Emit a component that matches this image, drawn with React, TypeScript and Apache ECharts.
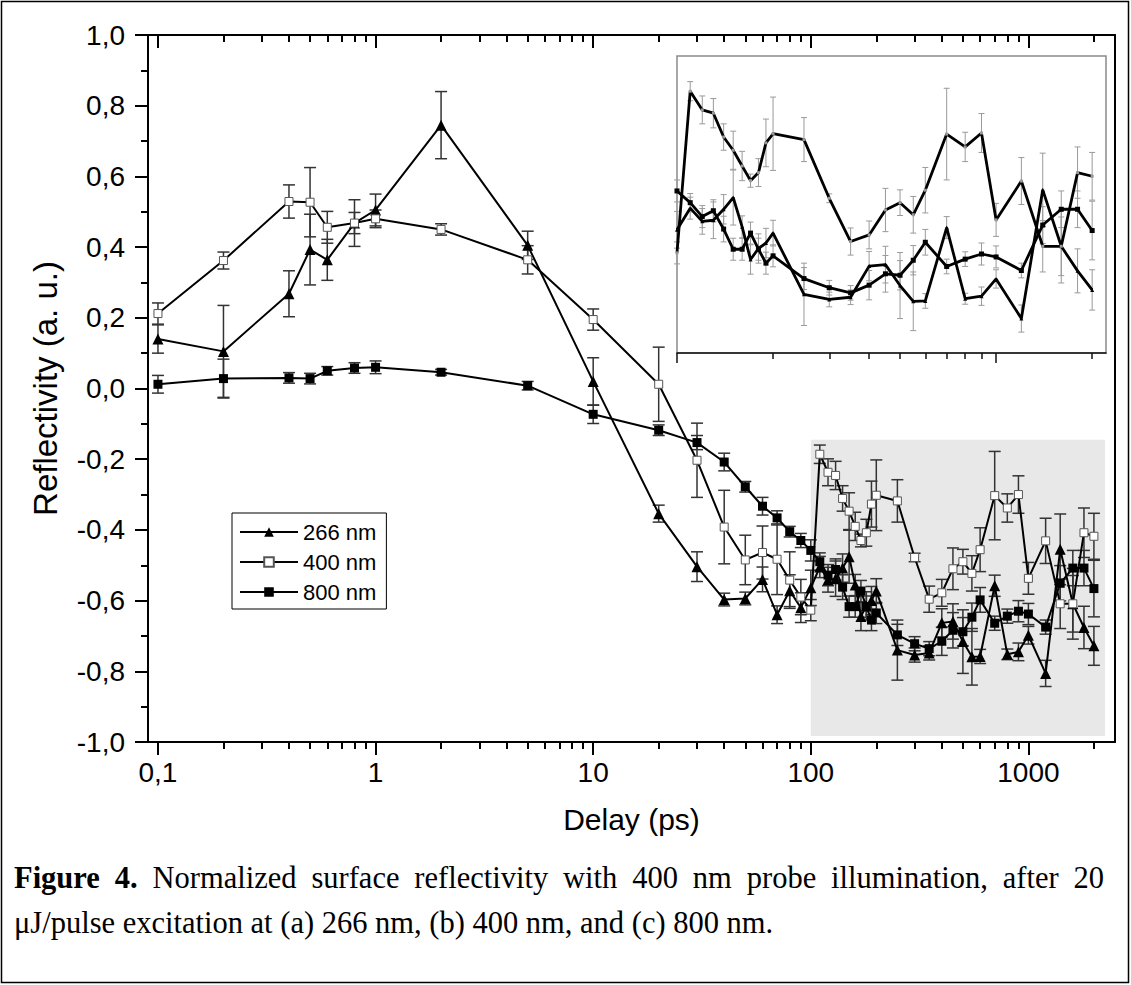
import React, { useEffect, useRef } from 'react';
import * as echarts from 'echarts';

// ---- data ----
const delays = [0.1, 0.2, 0.4, 0.5, 0.6, 0.8, 1, 2, 5, 10, 20, 30, 40, 50, 60, 70, 80, 90, 100, 110, 120, 130, 140, 150, 160, 170, 180, 190, 200, 250, 300, 350, 400, 450, 500, 550, 600, 700, 800, 900, 1000, 1200, 1400, 1600, 1800, 2000];

const r266 = [0.14, 0.105, 0.268, 0.393, 0.364, 0.468, 0.505, 0.745, 0.405, 0.02, -0.354, -0.504, -0.597, -0.594, -0.54, -0.64, -0.572, -0.62, -0.564, -0.505, -0.541, -0.538, -0.508, -0.476, -0.556, -0.645, -0.615, -0.6, -0.573, -0.74, -0.754, -0.748, -0.663, -0.659, -0.716, -0.759, -0.758, -0.558, -0.752, -0.745, -0.698, -0.806, -0.455, -0.609, -0.676, -0.728];
const e266 = [0.04, 0.13, 0.065, 0.1, 0.058, 0.066, 0.045, 0.095, 0.04, 0.067, 0.024, 0.042, 0.018, 0.018, 0.035, 0.025, 0.045, 0.042, 0.05, 0.03, 0.035, 0.05, 0.04, 0.075, 0.03, 0.04, 0.04, 0.04, 0.035, 0.085, 0.02, 0.02, 0.04, 0.05, 0.09, 0.08, 0.02, 0.03, 0.015, 0.025, 0.025, 0.037, 0.1, 0.08, 0.06, 0.055];

const r400 = [0.212, 0.362, 0.529, 0.527, 0.456, 0.468, 0.48, 0.45, 0.364, 0.195, 0.012, -0.203, -0.392, -0.485, -0.464, -0.483, -0.542, -0.59, -0.627, -0.186, -0.237, -0.246, -0.311, -0.347, -0.39, -0.43, -0.408, -0.327, -0.302, -0.318, -0.478, -0.596, -0.578, -0.51, -0.49, -0.523, -0.456, -0.303, -0.338, -0.3, -0.537, -0.431, -0.609, -0.609, -0.408, -0.418];
const e400 = [0.03, 0.024, 0.047, 0.098, 0.045, 0.03, 0.025, 0.016, 0.04, 0.03, 0.105, 0.105, 0.104, 0.07, 0.075, 0.1, 0.08, 0.05, 0.03, 0.026, 0.038, 0.04, 0.036, 0.052, 0.04, 0.018, 0.038, 0.065, 0.1, 0.06, 0.012, 0.037, 0.038, 0.059, 0.035, 0.05, 0.062, 0.125, 0.04, 0.053, 0.045, 0.064, 0.07, 0.1, 0.07, 0.065];

const r800 = [0.012, 0.028, 0.03, 0.028, 0.05, 0.058, 0.06, 0.046, 0.008, -0.073, -0.118, -0.153, -0.208, -0.278, -0.333, -0.366, -0.405, -0.43, -0.458, -0.49, -0.528, -0.512, -0.562, -0.617, -0.617, -0.573, -0.617, -0.655, -0.635, -0.697, -0.722, -0.736, -0.715, -0.684, -0.688, -0.647, -0.598, -0.664, -0.644, -0.63, -0.638, -0.675, -0.551, -0.508, -0.508, -0.566];
const e800 = [0.025, 0.055, 0.015, 0.015, 0.012, 0.015, 0.018, 0.008, 0.012, 0.026, 0.015, 0.02, 0.025, 0.015, 0.025, 0.02, 0.015, 0.02, 0.03, 0.025, 0.03, 0.03, 0.035, 0.03, 0.03, 0.03, 0.03, 0.03, 0.03, 0.03, 0.02, 0.02, 0.04, 0.05, 0.04, 0.04, 0.035, 0.02, 0.02, 0.03, 0.03, 0.02, 0.05, 0.05, 0.05, 0.08];

const seriesNames = ['266 nm', '400 nm', '800 nm'];
const xMajorTicks = [0.1, 1, 10, 100, 1000];
const xMinorTicks = [0.2, 0.3, 0.4, 0.5, 0.6, 0.7, 0.8, 0.9, 2, 3, 4, 5, 6, 7, 8, 9, 20, 30, 40, 50, 60, 70, 80, 90, 200, 300, 400, 500, 600, 700, 800, 900, 2000];
const insetMajorTicks = [100, 1000];
const insetMinorTicks = [200, 300, 400, 500, 600, 700, 800, 900, 2000];
const insetStart = 100;
const shadeDelay = [100, 2250];
const shadeRefl = [-0.983, -0.145];

const captionBold = 'Figure 4.';
const captionLine1 = 'Normalized surface reflectivity with 400 nm probe illumination, after 20';
const captionLine2 = 'μJ/pulse excitation at (a) 266 nm, (b) 400 nm, and (c) 800 nm.';

const SANS = '"Liberation Sans", Arial, sans-serif';
const SERIF = '"Liberation Serif", "Times New Roman", serif';
const CAP_SIZE = 30.5;

function fmtX(v: number) {
  return String(parseFloat(Number(v).toPrecision(6))).replace('.', ',');
}
function fmtY(v: number) {
  return Number(v).toFixed(1).replace('.', ',');
}

function errorBars(vals: number[], errs: number[], xi: number, yi: number, minDelay: number, color: string, lw: number, cap: number, z: number) {
  const data = delays
    .map((d, i) => [d, vals[i] - errs[i], vals[i] + errs[i]])
    .filter((p) => p[0] >= minDelay);
  return {
    type: 'custom',
    xAxisIndex: xi,
    yAxisIndex: yi,
    silent: true,
    z,
    data,
    encode: { x: 0, y: [1, 2] },
    renderItem: (params: any, api: any) => {
      const x = api.value(0);
      const lo = api.value(1);
      const hi = api.value(2);
      const a = api.coord([x, hi]);
      const b = api.coord([x, lo]);
      const h = cap / 2;
      const st = { stroke: color, lineWidth: lw };
      return {
        type: 'group',
        children: [
          { type: 'line', shape: { x1: a[0], y1: a[1], x2: b[0], y2: b[1] }, style: st },
          { type: 'line', shape: { x1: a[0] - h, y1: a[1], x2: a[0] + h, y2: a[1] }, style: st },
          { type: 'line', shape: { x1: b[0] - h, y1: b[1], x2: b[0] + h, y2: b[1] }, style: st },
        ],
      };
    },
  };
}

function lineSeries(name: string | undefined, vals: number[], xi: number, yi: number, minDelay: number, symbol: string, size: number, itemStyle: any, lw: number, z: number) {
  return {
    type: 'line',
    name,
    xAxisIndex: xi,
    yAxisIndex: yi,
    data: delays.map((d, i) => [d, vals[i]]).filter((p) => p[0] >= minDelay),
    symbol,
    symbolSize: size,
    showSymbol: true,
    showAllSymbol: true,
    lineStyle: { color: '#000', width: lw },
    itemStyle,
    emphasis: { disabled: true },
    silent: true,
    z,
  };
}

// justified first caption line (word positions from measured text widths)
function justifiedCaption(y: number, x0: number, x1: number) {
  const boldWords = captionBold.split(' ');
  const words = [...boldWords.map((t) => ({ t, b: true })), ...captionLine1.split(' ').map((t) => ({ t, b: false }))];
  const ctx = document.createElement('canvas').getContext('2d') as CanvasRenderingContext2D;
  const widths = words.map((w) => {
    ctx.font = `${w.b ? 'bold ' : ''}${CAP_SIZE}px "Liberation Serif"`;
    return ctx.measureText(w.t).width;
  });
  const total = widths.reduce((a, b) => a + b, 0);
  const gap = (x1 - x0 - total) / (words.length - 1);
  let x = x0;
  return words.map((w, i) => {
    const el = {
      type: 'text',
      x,
      y,
      silent: true,
      style: {
        text: w.t,
        fontSize: CAP_SIZE,
        fontFamily: SERIF,
        fontWeight: w.b ? 'bold' : 'normal',
        fill: '#000',
        align: 'left',
        verticalAlign: 'middle',
      },
    };
    x += widths[i] + gap;
    return el;
  });
}

export default function App() {
  const ref = useRef<HTMLDivElement>(null);
  useEffect(() => {
    if (!ref.current) return;
    const chart = echarts.init(ref.current, undefined, { renderer: 'svg' });
    const black = '#000';
    const tickStyle = { color: black, width: 2 };
    const mainLog = { type: 'log', logBase: 10, gridIndex: 0, min: 0.09, max: 2500, splitLine: { show: false } };
    const insetLog = { type: 'log', logBase: 10, gridIndex: 1, min: 100, max: 2210, splitLine: { show: false } };

    const option: any = {
      animation: false,
      backgroundColor: '#fff',
      textStyle: { fontFamily: SANS, color: black },
      grid: [
        { left: 148, top: 35, right: 16, bottom: 243 },
        { left: 677, top: 56, right: 25, bottom: 632, show: true, backgroundColor: '#fff', borderColor: '#8a8a8a', borderWidth: 1.5 },
      ],
      xAxis: [
        {
          ...mainLog,
          position: 'bottom',
          axisLine: { show: true, onZero: false, lineStyle: { color: black, width: 2 } },
          axisTick: { show: true, inside: false, length: 7, customValues: xMinorTicks, lineStyle: tickStyle },
          axisLabel: { show: true, customValues: xMajorTicks, margin: 16, fontSize: 28, color: black, fontFamily: SANS, formatter: fmtX },
          name: 'Delay (ps)',
          nameLocation: 'middle',
          nameGap: 62,
          nameTextStyle: { fontSize: 30, color: black, fontFamily: SANS },
        },
        {
          ...mainLog,
          position: 'bottom',
          axisLine: { show: false, onZero: false },
          axisTick: { show: true, inside: false, length: 13, customValues: xMajorTicks, lineStyle: tickStyle },
          axisLabel: { show: false },
        },
        {
          ...mainLog,
          position: 'top',
          axisLine: { show: true, onZero: false, lineStyle: { color: black, width: 2 } },
          axisTick: { show: true, inside: true, length: 7, customValues: xMinorTicks, lineStyle: tickStyle },
          axisLabel: { show: false },
        },
        {
          ...mainLog,
          position: 'top',
          axisLine: { show: false, onZero: false },
          axisTick: { show: true, inside: true, length: 13, customValues: xMajorTicks, lineStyle: tickStyle },
          axisLabel: { show: false },
        },
        {
          ...insetLog,
          position: 'bottom',
          axisLine: { show: true, onZero: false, lineStyle: { color: '#111', width: 1.5 } },
          axisTick: { show: true, inside: false, length: 6, customValues: insetMinorTicks, lineStyle: { color: '#111', width: 1.5 } },
          axisLabel: { show: false },
        },
        {
          ...insetLog,
          position: 'bottom',
          axisLine: { show: false, onZero: false },
          axisTick: { show: true, inside: false, length: 10, customValues: insetMajorTicks, lineStyle: { color: '#111', width: 1.5 } },
          axisLabel: { show: false },
        },
      ],
      yAxis: [
        {
          type: 'value',
          gridIndex: 0,
          position: 'left',
          min: -1,
          max: 1,
          interval: 0.2,
          splitLine: { show: false },
          axisLine: { show: true, onZero: false, lineStyle: { color: black, width: 2 } },
          axisTick: { show: true, inside: false, length: 13, lineStyle: tickStyle },
          minorTick: { show: true, splitNumber: 2, length: 7, lineStyle: tickStyle },
          axisLabel: { margin: 23, fontSize: 28, color: black, fontFamily: SANS, formatter: fmtY },
          name: 'Reflectivity (a. u.)',
          nameLocation: 'middle',
          nameRotate: 90,
          nameGap: 86,
          nameTextStyle: { fontSize: 33, color: black, fontFamily: SANS },
        },
        {
          type: 'value',
          gridIndex: 0,
          position: 'right',
          min: -1,
          max: 1,
          interval: 0.2,
          splitLine: { show: false },
          axisLine: { show: true, onZero: false, lineStyle: { color: black, width: 2 } },
          axisTick: { show: false },
          axisLabel: { show: false },
        },
        { type: 'value', gridIndex: 1, min: -0.9, max: -0.09, show: false, splitLine: { show: false } },
      ],
      legend: {
        data: seriesNames,
        orient: 'vertical',
        left: 232,
        top: 513,
        itemWidth: 58,
        itemHeight: 12,
        itemGap: 8,
        padding: [8, 10, 6, 7],
        borderColor: black,
        borderWidth: 1,
        backgroundColor: '#fff',
        selectedMode: false,
        textStyle: { fontSize: 22, color: black, fontFamily: SANS },
      },
      graphic: [
        {
          type: 'rect',
          silent: true,
          shape: { x: 1.5, y: 1.5, width: 1127, height: 981 },
          style: { fill: 'none', stroke: '#000', lineWidth: 1.5 },
        },
        ...justifiedCaption(878, 14, 1104),
        {
          type: 'text',
          x: 14,
          y: 923,
          silent: true,
          style: { text: captionLine2, fontSize: CAP_SIZE, fontFamily: SERIF, fill: '#000', align: 'left', verticalAlign: 'middle' },
        },
      ],
      series: [
        errorBars(r266, e266, 0, 0, 0, '#333', 1.5, 12, 2),
        errorBars(r400, e400, 0, 0, 0, '#333', 1.5, 12, 2),
        errorBars(r800, e800, 0, 0, 0, '#333', 1.5, 12, 2),
        lineSeries('266 nm', r266, 0, 0, 0, 'triangle', 11, { color: '#000' }, 2, 3),
        lineSeries('400 nm', r400, 0, 0, 0, 'rect', 8, { color: '#fff', borderColor: '#555', borderWidth: 1 }, 2, 3),
        lineSeries('800 nm', r800, 0, 0, 0, 'rect', 9, { color: '#000' }, 2, 3),
        {
          type: 'line',
          xAxisIndex: 0,
          yAxisIndex: 0,
          data: [],
          silent: true,
          z: 10,
          markArea: {
            silent: true,
            itemStyle: { color: 'rgba(182,182,182,0.32)' },
            data: [[{ coord: [shadeDelay[0], shadeRefl[1]] }, { coord: [shadeDelay[1], shadeRefl[0]] }]],
          },
        },
        errorBars(r266, e266, 4, 2, insetStart, '#9a9a9a', 1, 6, 2),
        errorBars(r400, e400, 4, 2, insetStart, '#9a9a9a', 1, 6, 2),
        errorBars(r800, e800, 4, 2, insetStart, '#9a9a9a', 1, 6, 2),
        lineSeries(undefined, r266, 4, 2, insetStart, 'triangle', 4, { color: '#000' }, 2.8, 3),
        lineSeries(undefined, r400, 4, 2, insetStart, 'rect', 3, { color: '#999' }, 2.8, 3),
        lineSeries(undefined, r800, 4, 2, insetStart, 'rect', 5, { color: '#000' }, 2.8, 3),
      ],
    };
    chart.setOption(option);
    return () => chart.dispose();
  }, []);
  return <div ref={ref} style={{ position: 'absolute', left: 0, top: 0, width: 1131, height: 985 }} />;
}
